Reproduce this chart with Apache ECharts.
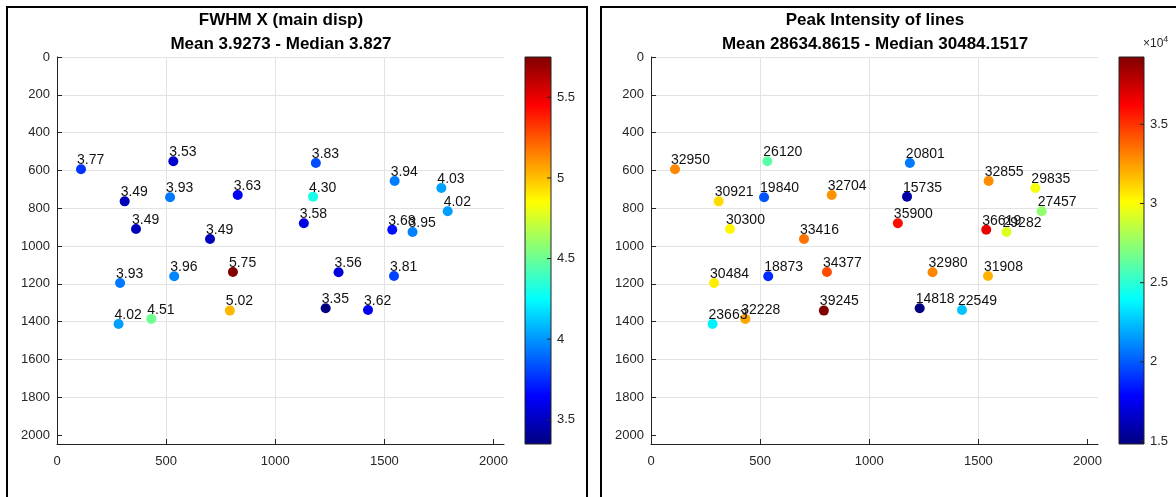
<!DOCTYPE html>
<html>
<head>
<meta charset="utf-8">
<script src="https://cdn.jsdelivr.net/npm/echarts@6/dist/echarts.min.js"></script>
<style>
html,body{margin:0;padding:0;background:#fff;}
#chart{width:1176px;height:497px;}
</style>
</head>
<body>
<div id="chart"></div>
<script>
// ---- data ----
const xPos = [110,533,310,518,828,362,701, 289,537,806,792,282,432, 1186,1173,1131,1547,1761,1790,1536,1629, 1290,1544,1231,1425];
const yPos = [594,552,764,742,730,910,963, 1196,1160,1138,1342,1413,1386, 561,739,880,656,693,816,914,926, 1139,1159,1330,1339];
const fwhmValues = [3.77,3.53,3.49,3.93,3.63,3.49,3.49, 3.93,3.96,5.75,5.02,4.02,4.51, 3.83,4.30,3.58,3.94,4.03,4.02,3.68,3.95, 3.56,3.81,3.35,3.62];
const peakValues = [32950,26120,30921,19840,32704,30300,33416, 30484,18873,34377,39245,23663,32228, 20801,15735,35900,32855,29835,27457,36619,29282, 32980,31908,14818,22549];
const xTicks = [0,500,1000,1500,2000];
const yTicks = [0,200,400,600,800,1000,1200,1400,1600,1800,2000];
const fwhmBarTicks = [3.5,4,4.5,5,5.5];
const peakBarTicks = [15000,20000,25000,30000,35000];
const leftTitle = ['FWHM X (main disp)', 'Mean 3.9273 - Median 3.827'];
const rightTitle = ['Peak Intensity of lines', 'Mean 28634.8615 - Median 30484.1517'];

const FONT = '"Liberation Sans", Arial, Helvetica, sans-serif';
const jet = ['#000080','#0000FF','#0080FF','#00FFFF','#80FF80','#FFFF00','#FF8000','#FF0000','#800000'];

const fMin = Math.min(...fwhmValues), fMax = Math.max(...fwhmValues);
const pMin = Math.min(...peakValues), pMax = Math.max(...peakValues);

const leftData = xPos.map((x,i)=>[x, yPos[i], fwhmValues[i]]);
const rightData = xPos.map((x,i)=>[x, yPos[i], peakValues[i]]);

const chart = echarts.init(document.getElementById('chart'), null, {renderer:'canvas'});

function plotX(gi){
  return {
    type:'value', gridIndex:gi, min:0, max:2048, interval:500, position:'bottom',
    axisLine:{show:true, onZero:false, lineStyle:{color:'#222', width:1}},
    axisTick:{show:true, inside:true, length:5, lineStyle:{color:'#222'}, customValues: xTicks},
    axisLabel:{color:'#262626', fontSize:13, fontFamily:FONT, margin:11, customValues: xTicks, formatter:v=>String(v)},
    splitLine:{show:true, showMinLine:false, showMaxLine:false, lineStyle:{color:'#e3e3e3', width:1}}
  };
}
function plotY(gi){
  return {
    type:'value', gridIndex:gi, min:0, max:2048, interval:200, inverse:true, position:'left',
    axisLine:{show:true, onZero:false, lineStyle:{color:'#222', width:1}},
    axisTick:{show:true, inside:true, length:5, lineStyle:{color:'#222'}, customValues: yTicks},
    axisLabel:{color:'#262626', fontSize:13, fontFamily:FONT, margin:7, customValues: yTicks, formatter:v=>String(v)},
    splitLine:{show:true, showMinLine:true, showMaxLine:false, lineStyle:{color:'#e3e3e3', width:1}}
  };
}
function barX(gi){
  return {type:'value', gridIndex:gi, min:0, max:1, show:false};
}
function barY(gi, mn, mx, ticks, fmt){
  return {
    type:'value', gridIndex:gi, min:mn, max:mx, position:'right',
    axisLine:{show:false},
    axisTick:{show:false},
    axisLabel:{color:'#262626', fontSize:13, fontFamily:FONT, margin:6, customValues: ticks, formatter: fmt},
    splitLine:{show:false}
  };
}
function colorbarSeries(xi, yi, mn, mx, ticks){
  const stops = jet.slice().reverse().map((c,i,a)=>({offset:i/(a.length-1), color:c}));
  return {
    type:'custom', xAxisIndex:xi, yAxisIndex:yi, silent:true,
    data:[[0, mn, mx]],
    encode:{x:0, y:[1,2]},
    renderItem:function(params, api){
      const a = api.coord([0, api.value(2)]);
      const b = api.coord([1, api.value(1)]);
      const children = [{
        type:'rect',
        shape:{x:a[0], y:a[1], width:b[0]-a[0], height:b[1]-a[1]},
        style:{fill:new echarts.graphic.LinearGradient(0,0,0,1,stops), stroke:'#222', lineWidth:1}
      }];
      ticks.forEach(t=>{
        const p = api.coord([1, t]);
        children.push({type:'line', shape:{x1:p[0]-4, y1:p[1], x2:p[0], y2:p[1]}, style:{stroke:'#222', lineWidth:1}});
      });
      return {type:'group', children:children};
    }
  };
}
function scatterSeries(xi, yi, data, fmt){
  return {
    type:'scatter', xAxisIndex:xi, yAxisIndex:yi, data:data,
    symbolSize:10, encode:{x:0, y:1},
    itemStyle:{opacity:1},
    label:{show:true, position:[1,-4], align:'left', verticalAlign:'middle',
      color:'#111', fontSize:14, fontFamily:FONT, formatter:(p)=>fmt(p.value[2])},
    labelLayout:{hideOverlap:false},
    emphasis:{disabled:true}
  };
}
function titleTexts(cx, lines){
  return lines.map((t,i)=>({
    type:'text', x:cx, y: i===0 ? 20 : 44,
    style:{text:t, font:'bold 17px ' + FONT, fill:'#000', textAlign:'center', textVerticalAlign:'middle'}
  }));
}

const option = {
  backgroundColor:'#fff',
  animation:false,
  grid:[
    {left:57, top:57, width:447, height:387},
    {left:525, top:57, width:26, height:387},
    {left:651, top:57, width:447, height:387},
    {left:1119, top:57, width:25, height:387}
  ],
  xAxis:[plotX(0), barX(1), plotX(2), barX(3)],
  yAxis:[
    plotY(0),
    barY(1, fMin, fMax, fwhmBarTicks, v=>String(v)),
    plotY(2),
    barY(3, pMin, pMax, peakBarTicks, v=>String(v/10000))
  ],
  visualMap:[
    {type:'continuous', show:false, seriesIndex:0, dimension:2, min:fMin, max:fMax, inRange:{color:jet}},
    {type:'continuous', show:false, seriesIndex:2, dimension:2, min:pMin, max:pMax, inRange:{color:jet}}
  ],
  series:[
    scatterSeries(0, 0, leftData, v=>v.toFixed(2)),
    colorbarSeries(1, 1, fMin, fMax, fwhmBarTicks),
    scatterSeries(2, 2, rightData, v=>String(Math.round(v))),
    colorbarSeries(3, 3, pMin, pMax, peakBarTicks)
  ],
  graphic:[
    {type:'rect', shape:{x:7, y:7, width:580, height:520}, style:{fill:'none', stroke:'#000', lineWidth:2}, silent:true},
    {type:'rect', shape:{x:601, y:7, width:600, height:520}, style:{fill:'none', stroke:'#000', lineWidth:2}, silent:true},
    ...titleTexts(281, leftTitle),
    ...titleTexts(875, rightTitle),
    {type:'text', x:1143, y:44, style:{
      text:'×10{s|4}', rich:{s:{fontSize:9, verticalAlign:'top', padding:[0,0,8,0], fontFamily:FONT, fill:'#262626'}},
      font:'12px ' + FONT, fill:'#262626', textVerticalAlign:'middle'}}
  ]
};
chart.setOption(option);
</script>
</body>
</html>
